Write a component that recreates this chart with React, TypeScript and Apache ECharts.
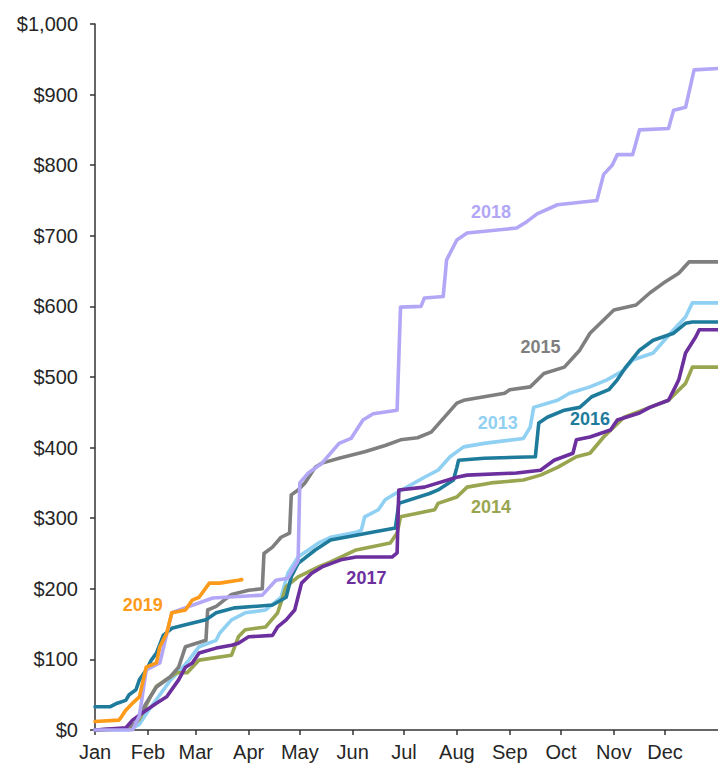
import React, { useEffect, useRef } from "react";
import * as echarts from "echarts";

const monthStarts = [0, 31, 59, 90, 120, 151, 181, 212, 243, 273, 304, 334];
const monthNames = ["Jan", "Feb", "Mar", "Apr", "May", "Jun", "Jul", "Aug", "Sep", "Oct", "Nov", "Dec"];

// [day of year, cumulative $]
const s2013: number[][] = [[0,0],[20,0],[26,8],[32,30],[38,50],[44,70],[50,85],[55,99],[61,118],[71,127],[73,137],[80,156],[88,166],[100,170],[109,188],[113,222],[119,245],[131,265],[138,273],[153,280],[156,283],[158,302],[166,312],[170,326],[176,335],[182,343],[193,358],[201,368],[208,387],[216,401],[228,406],[251,413],[255,429],[257,457],[271,467],[278,477],[290,486],[300,496],[310,510],[315,524],[327,534],[339,567],[346,585],[350,605],[365,605]];
const s2014: number[][] = [[0,0],[20,2],[26,15],[32,45],[36,62],[42,72],[48,81],[54,81],[61,99],[80,106],[84,132],[88,142],[100,146],[107,166],[112,203],[119,217],[131,231],[138,238],[153,255],[173,265],[177,279],[179,302],[189,307],[199,312],[201,321],[212,330],[218,344],[232,350],[251,354],[261,361],[271,372],[282,387],[290,392],[298,415],[310,443],[325,457],[336,467],[346,491],[350,514],[365,514]];
const s2015: number[][] = [[0,0],[18,2],[24,10],[30,38],[36,61],[44,75],[49,89],[53,118],[65,127],[66,170],[71,175],[80,192],[90,198],[98,200],[99,250],[104,259],[109,273],[114,279],[115,333],[119,340],[123,350],[129,372],[133,378],[143,385],[158,394],[170,403],[179,411],[189,414],[197,422],[212,463],[216,467],[240,477],[243,482],[255,486],[263,505],[275,514],[284,538],[290,562],[304,595],[317,602],[325,619],[333,633],[342,647],[348,663],[365,663]];
const s2016: number[][] = [[0,33],[9,33],[13,38],[18,42],[20,50],[24,57],[26,71],[30,85],[33,99],[36,109],[40,134],[45,144],[53,149],[65,156],[71,166],[82,173],[104,177],[112,188],[115,217],[119,236],[129,255],[138,269],[153,276],[160,279],[176,286],[178,321],[196,335],[201,340],[210,354],[212,372],[213,382],[228,385],[258,387],[260,435],[265,443],[275,453],[284,457],[291,472],[301,482],[306,496],[311,514],[319,538],[327,552],[339,562],[346,576],[350,578],[365,578]];
const s2017: number[][] = [[0,0],[18,3],[22,14],[30,28],[36,38],[42,47],[49,71],[53,89],[57,95],[61,109],[71,116],[80,120],[84,123],[90,132],[104,134],[107,146],[112,156],[117,170],[121,208],[127,222],[133,231],[144,241],[153,245],[174,245],[177,251],[178,340],[193,344],[212,358],[218,361],[247,364],[261,368],[269,382],[280,392],[282,411],[290,415],[302,425],[306,439],[319,449],[325,457],[336,467],[340,486],[342,496],[346,534],[352,557],[354,567],[365,567]];
const s2018: number[][] = [[0,0],[22,0],[26,20],[30,85],[38,95],[45,166],[54,174],[69,187],[98,191],[106,212],[113,215],[119,240],[120,350],[125,364],[133,378],[143,406],[150,413],[157,439],[163,448],[177,453],[179,599],[191,600],[193,612],[204,614],[206,666],[212,694],[218,704],[247,711],[253,720],[259,731],[271,744],[294,750],[298,787],[303,800],[306,815],[315,815],[319,850],[336,852],[339,878],[346,882],[351,935],[365,937]];
const s2019: number[][] = [[0,12],[14,14],[15,17],[18,28],[22,38],[26,47],[30,89],[36,95],[38,118],[42,137],[45,166],[53,170],[57,184],[61,188],[67,208],[73,208],[84,212],[86,213]];

const years = ["2013", "2014", "2015", "2016", "2017", "2018", "2019"];
const seriesData = [s2013, s2014, s2015, s2016, s2017, s2018, s2019];
const colors = ["#8fd0f3", "#9aa550", "#7f7f7f", "#1e7b9b", "#6c2f9e", "#b2a7f6", "#fd9a1a"];
// label anchor [day, $] for each year's name
const labelPos: number[][] = [[236,435],[232,316],[261,542],[290,440],[159,215],[232,734],[28,177]];

const FONT = "'Liberation Sans', Arial, sans-serif";

export default function App() {
  const ref = useRef<HTMLDivElement>(null);
  useEffect(() => {
    if (!ref.current) return;
    const chart = echarts.init(ref.current, null, { renderer: "svg" });
    chart.setOption({
      animation: false,
      backgroundColor: "#ffffff",
      grid: { left: 95, right: -4, top: 24, bottom: 33, containLabel: false },
      xAxis: {
        type: "value",
        min: 0,
        max: 365,
        splitLine: { show: false },
        axisLine: { show: true, lineStyle: { color: "#333", width: 1.5 } },
        axisTick: { show: true, customValues: monthStarts, length: 5, lineStyle: { color: "#333", width: 1.5 } },
        axisLabel: {
          customValues: monthStarts,
          margin: 12,
          fontSize: 20,
          color: "#262626",
          fontFamily: FONT,
          formatter: (v: number) => {
            const i = monthStarts.indexOf(Math.round(v));
            return i >= 0 ? monthNames[i] : "";
          },
        },
      },
      yAxis: {
        type: "value",
        min: 0,
        max: 1000,
        interval: 100,
        splitLine: { show: false },
        axisLine: { show: true, lineStyle: { color: "#333", width: 1.5 } },
        axisTick: { show: true, length: 5, lineStyle: { color: "#333", width: 1.5 } },
        axisLabel: {
          margin: 17,
          fontSize: 20,
          color: "#262626",
          fontFamily: FONT,
          formatter: (v: number) => "$" + v.toLocaleString("en-US"),
        },
      },
      series: years.map((y, i) => ({
        name: y,
        type: "line",
        data: seriesData[i],
        showSymbol: false,
        symbol: "none",
        lineStyle: { color: colors[i], width: 3.6, join: "round", cap: "round" },
        itemStyle: { color: colors[i] },
        z: 2 + i,
        markPoint: {
          symbol: "circle",
          symbolSize: 1,
          itemStyle: { color: "rgba(0,0,0,0)" },
          label: {
            show: true,
            position: "inside",
            formatter: y,
            color: colors[i],
            fontSize: 18,
            fontWeight: "bold",
            fontFamily: FONT,
          },
          data: [{ coord: labelPos[i], name: y }],
        },
      })),
    });
    return () => chart.dispose();
  }, []);
  return <div ref={ref} style={{ position: "absolute", left: 0, top: 0, width: 718, height: 763 }} />;
}
